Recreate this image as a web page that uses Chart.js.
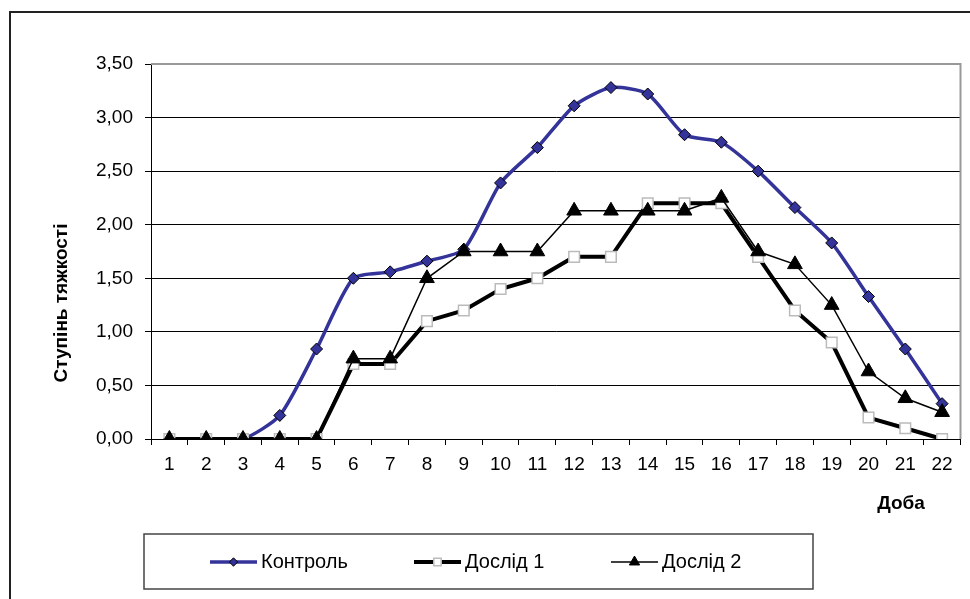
<!DOCTYPE html>
<html>
<head>
<meta charset="utf-8">
<script src="https://cdn.jsdelivr.net/npm/chart.js@4/dist/chart.umd.min.js"></script>
<style>
  html, body { margin: 0; padding: 0; background: #fff; overflow: hidden; }
  canvas { display: block; }
</style>
</head>
<body>
<canvas id="chart" width="970" height="599"></canvas>
<script>
// days on the x axis
const days = ['1','2','3','4','5','6','7','8','9','10','11','12','13','14','15','16','17','18','19','20','21','22'];

// severity values
const kontrol = [0, 0, 0, 0.22, 0.84, 1.50, 1.56, 1.66, 1.77, 2.39, 2.72, 3.11, 3.28, 3.22, 2.84, 2.77, 2.50, 2.16, 1.83, 1.33, 0.84, 0.33];
const doslid1 = [0, 0, 0, 0, 0, 0.70, 0.70, 1.10, 1.20, 1.40, 1.50, 1.70, 1.70, 2.20, 2.20, 2.20, 1.70, 1.20, 0.90, 0.20, 0.10, 0];
const doslid2 = [0, 0, 0, 0, 0, 0.75, 0.75, 1.50, 1.75, 1.75, 1.75, 2.13, 2.13, 2.13, 2.13, 2.25, 1.75, 1.63, 1.25, 0.63, 0.38, 0.25];

const seriesNames = ['Контроль', 'Дослід 1', 'Дослід 2'];
const yTicks = [0, 0.5, 1, 1.5, 2, 2.5, 3, 3.5];

const FONT = "'Liberation Sans', Arial, sans-serif";
const NAVY = '#333399';

// frame, plot border, axis titles and the boxed legend
const decor = {
    id: 'decor',
    beforeDraw(chart) {
        const ctx = chart.ctx;
        ctx.save();
        ctx.fillStyle = '#fff';
        ctx.fillRect(0, 0, chart.width, chart.height);
        ctx.strokeStyle = '#222';
        ctx.lineWidth = 2;
        ctx.strokeRect(10, 12, 1000, 700);
        ctx.restore();
    },
    beforeDatasetsDraw(chart) {
        const ctx = chart.ctx;
        const a = chart.chartArea;
        ctx.save();
        ctx.strokeStyle = '#999';
        ctx.lineWidth = 2;
        ctx.beginPath();
        ctx.moveTo(a.left, a.top);
        ctx.lineTo(a.right, a.top);
        ctx.lineTo(a.right, a.bottom);
        ctx.stroke();
        ctx.restore();
    },
    afterDraw(chart) {
        const ctx = chart.ctx;
        ctx.save();
        ctx.fillStyle = '#000';
        ctx.font = 'bold 19px ' + FONT;
        ctx.textAlign = 'center';
        ctx.textBaseline = 'middle';
        ctx.fillText('Доба', 901, 504);
        ctx.translate(62, 303);
        ctx.rotate(-Math.PI / 2);
        ctx.fillText('Ступінь тяжкості', 0, 0);
        ctx.restore();

        // legend box
        ctx.save();
        ctx.strokeStyle = '#444';
        ctx.lineWidth = 1.5;
        ctx.strokeRect(144, 534, 669, 55);
        const cy = 562;
        const items = [
            { x: 210, tx: 261 },
            { x: 414, tx: 465 },
            { x: 611, tx: 662 }
        ];
        const ds = chart.data.datasets;
        items.forEach((it, i) => {
            const d = ds[i];
            const px = it.x + 23.5;
            const r = d.pointRadius * 0.7;
            ctx.strokeStyle = d.borderColor;
            ctx.lineWidth = d.borderWidth;
            ctx.beginPath();
            ctx.moveTo(it.x, cy);
            ctx.lineTo(it.x + 47, cy);
            ctx.stroke();
            ctx.fillStyle = d.pointBackgroundColor;
            ctx.strokeStyle = d.pointBorderColor;
            ctx.lineWidth = d.pointBorderWidth;
            ctx.beginPath();
            if (d.pointStyle === 'rectRot') {
                ctx.moveTo(px, cy - r); ctx.lineTo(px + r, cy); ctx.lineTo(px, cy + r); ctx.lineTo(px - r, cy);
            } else if (d.pointStyle === 'rect') {
                const s = r * Math.SQRT1_2;
                ctx.rect(px - s, cy - s, 2 * s, 2 * s);
            } else {
                ctx.moveTo(px, cy - r); ctx.lineTo(px + r * 0.866, cy + r / 2); ctx.lineTo(px - r * 0.866, cy + r / 2);
            }
            ctx.closePath();
            ctx.fill();
            ctx.stroke();
            ctx.fillStyle = '#000';
            ctx.font = '20px ' + FONT;
            ctx.textAlign = 'left';
            ctx.textBaseline = 'middle';
            ctx.fillText(seriesNames[i], it.tx, cy);
        });
        ctx.restore();
    }
};

new Chart(document.getElementById('chart'), {
    type: 'line',
    data: {
        labels: days,
        datasets: [
            {
                label: seriesNames[0],
                data: kontrol,
                borderColor: NAVY,
                borderWidth: 3.5,
                pointStyle: 'rectRot',
                pointRadius: 6,
                pointBackgroundColor: NAVY,
                pointBorderColor: '#000',
                pointBorderWidth: 1,
                tension: 0.22,
                order: 3
            },
            {
                label: seriesNames[1],
                data: doslid1,
                borderColor: '#000',
                borderWidth: 4,
                pointStyle: 'rect',
                pointRadius: 7.5,
                pointBackgroundColor: '#fff',
                pointBorderColor: '#bbb',
                pointBorderWidth: 1.5,
                tension: 0,
                order: 2
            },
            {
                label: seriesNames[2],
                data: doslid2,
                borderColor: '#000',
                borderWidth: 1.5,
                pointStyle: 'triangle',
                pointRadius: 8.5,
                pointBackgroundColor: '#000',
                pointBorderColor: '#000',
                pointBorderWidth: 1,
                tension: 0,
                order: 1
            }
        ]
    },
    options: {
        responsive: false,
        animation: false,
        devicePixelRatio: 1,
        layout: { padding: { left: 0, top: 64, right: 3, bottom: 0 } },
        plugins: {
            legend: { display: false },
            tooltip: { enabled: false }
        },
        scales: {
            x: {
                offset: true,
                afterFit(scale) {
                    scale.height = 160;
                    scale.paddingLeft = 0;
                    scale.paddingRight = 0;
                },
                grid: {
                    offset: true,
                    drawOnChartArea: false,
                    drawTicks: true,
                    tickLength: 6,
                    color: '#000'
                },
                border: { color: '#000', width: 1 },
                ticks: {
                    color: '#000',
                    font: { family: FONT, size: 19 },
                    padding: 8,
                    maxRotation: 0,
                    autoSkip: false
                }
            },
            y: {
                min: 0,
                max: 3.5,
                afterFit(scale) { scale.width = 151; },
                afterBuildTicks(scale) { scale.ticks = yTicks.map(v => ({ value: v })); },
                grid: { color: '#000', lineWidth: 1, tickLength: 6 },
                border: { color: '#000', width: 1 },
                ticks: {
                    color: '#000',
                    font: { family: FONT, size: 19 },
                    padding: 12,
                    callback: v => v.toFixed(2).replace('.', ',')
                }
            }
        }
    },
    plugins: [decor]
});
</script>
</body>
</html>
